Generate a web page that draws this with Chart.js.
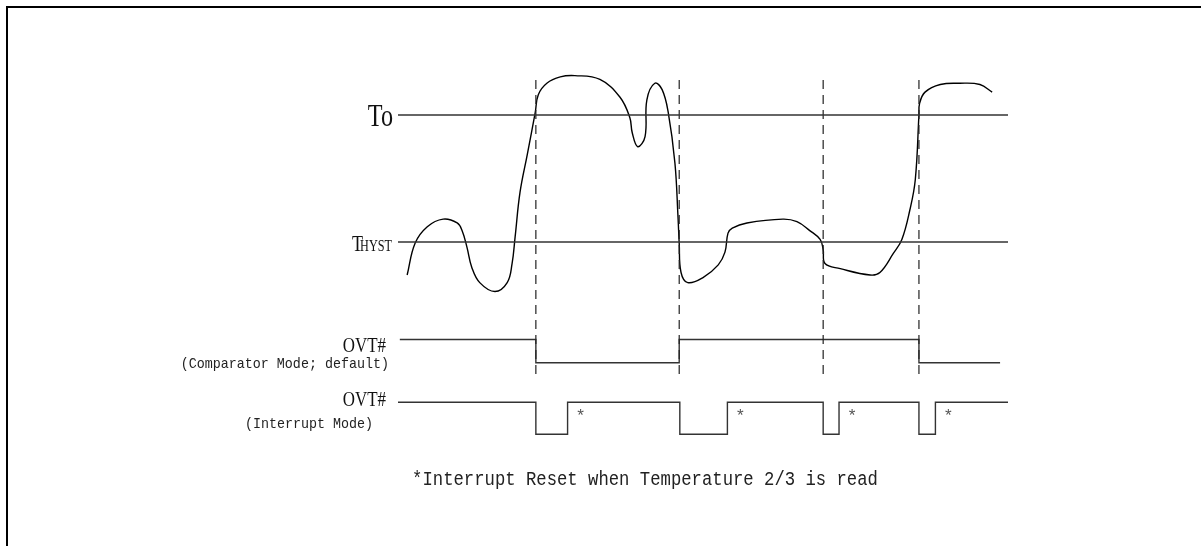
<!DOCTYPE html>
<html lang="en">
<head>
<meta charset="UTF-8">
<title>OVT# timing</title>
<script src="https://cdn.jsdelivr.net/npm/chart.js@4/dist/chart.umd.min.js"></script>
<style>
    body { margin: 0; background: #fff; overflow: hidden; }
    #frame {
        position: absolute; left: 6px; top: 6px; width: 1195px; height: 540px;
        border-top: 2px solid #000; border-left: 2px solid #000;
    }
    #chartBox { position: absolute; left: 0; top: 0; width: 1201px; height: 546px; }
</style>
</head>
<body>
<div id="frame"></div>
<div id="chartBox"><canvas id="timing" width="1201" height="546"></canvas></div>

<script>
    // temperature trace (time in arbitrary units, temperature normalised: THYST = 0, To = 1)
    const tempTime = [1.5, 2.8, 4.8, 7.4, 9.7, 10.5, 11.3, 12.1, 13.4, 15.9, 17.9, 18.7, 19.2, 20.0, 21.2,
        22.5, 23.0, 24.4, 26.6, 29.0, 33.1, 36.4, 38.0, 38.4, 39.3, 40.5, 40.8, 42.1, 43.3, 44.3, 45.4,
        45.9, 46.1, 46.4, 47.5, 50.0, 52.5, 53.6, 54.1, 54.8, 57.2, 63.1, 65.4, 67.5, 69.2, 69.7, 70.0,
        72.5, 77.4, 79.0, 81.2, 82.6, 83.9, 84.8, 85.4, 85.5, 86.4, 88.9, 92.1, 95.4, 97.4];
    const tempValue = [-0.26, -0.01, 0.12, 0.18, 0.15, 0.09, -0.04, -0.20, -0.32, -0.39, -0.32, -0.17, 0.04, 0.39, 0.69,
        1.02, 1.16, 1.25, 1.30, 1.31, 1.28, 1.14, 0.98, 0.86, 0.75, 0.83, 1.12, 1.25, 1.20, 1.02, 0.62,
        0.20, -0.01, -0.24, -0.32, -0.28, -0.18, -0.08, 0.07, 0.11, 0.15, 0.18, 0.16, 0.09, 0.02, -0.06, -0.17,
        -0.21, -0.26, -0.24, -0.09, 0.02, 0.25, 0.49, 1.00, 1.09, 1.18, 1.24, 1.25, 1.24, 1.18];

    const thresholdValues = [1, 0];          // To, THYST
    const thresholdSpan = [0, 100];
    const eventTimes = [22.6, 46.1, 69.7, 85.4];
    const eventRange = [-1.04, 1.315];       // dashed marker extent on the temperature axis

    // OVT# comparator mode
    const compTime = [0.3, 22.6, 46.1, 85.4, 98.7];
    const compLevel = [1, 0, 1, 0, 0];

    // OVT# interrupt mode
    const intTime = [0, 22.6, 27.8, 46.2, 54.0, 69.7, 72.3, 85.4, 88.1, 100];
    const intLevel = [1, 0, 1, 0, 1, 0, 1, 0, 1, 1];
    const readTimes = [27.8, 54.0, 72.3, 88.1];

    const noteText = '*Interrupt Reset when Temperature 2/3 is read';

    // layout
    const W = 1201, H = 546;
    const ORIGIN_PX = 398, PX_PER_UNIT = 6.1;

    function fitAxis(v1, p1, v0, p0) {
        let unit = (p0 - p1) / (v1 - v0);
        let max = v1 + p1 / unit;
        return { min: max - H / unit, max: max };
    }

    function pairs(xs, ys) {
        return xs.map((x, i) => ({ x: x, y: ys[i] }));
    }

    let datasets = [];

    thresholdValues.forEach((v) => {
        datasets.push({
            data: thresholdSpan.map((t) => ({ x: t, y: v })),
            yAxisID: 'yTemp', borderColor: '#333', borderWidth: 1.3
        });
    });

    eventTimes.forEach((t) => {
        datasets.push({
            data: eventRange.map((v) => ({ x: t, y: v })),
            yAxisID: 'yTemp', borderColor: '#222', borderWidth: 1.2, borderDash: [9, 6]
        });
    });

    datasets.push({
        data: pairs(tempTime, tempValue),
        yAxisID: 'yTemp', borderColor: '#000', borderWidth: 1.4,
        tension: 0.4
    });

    datasets.push({
        data: pairs(compTime, compLevel),
        yAxisID: 'yComp', borderColor: '#333', borderWidth: 1.4, stepped: 'before'
    });

    datasets.push({
        data: pairs(intTime, intLevel),
        yAxisID: 'yInt', borderColor: '#333', borderWidth: 1.4, stepped: 'before'
    });

    function drawText(ctx, text, px, py, font, align, sx) {
        ctx.save();
        ctx.translate(px, py);
        ctx.scale(sx, 1);
        ctx.font = font;
        ctx.textAlign = align;
        ctx.textBaseline = 'alphabetic';
        ctx.fillText(text, 0, 0);
        ctx.restore();
    }

    const labelPlugin = {
        id: 'labels',
        afterDatasetsDraw(chart) {
            let ctx = chart.ctx;
            let x = chart.scales.x, yTemp = chart.scales.yTemp, yComp = chart.scales.yComp, yInt = chart.scales.yInt;
            let left = x.getPixelForValue(0);
            let serif = '"Liberation Serif", serif';
            let mono = '"Liberation Mono", monospace';

            ctx.fillStyle = '#111';
            drawText(ctx, 'To', left - 5, yTemp.getPixelForValue(thresholdValues[0]) + 11, '31px ' + serif, 'right', 0.78);

            // T with small-caps HYST
            ctx.save();
            ctx.font = '17px ' + serif;
            let hystW = ctx.measureText('HYST').width * 0.72;
            ctx.restore();
            let yh = yTemp.getPixelForValue(thresholdValues[1]) + 9;
            drawText(ctx, 'HYST', left - 6, yh, '17px ' + serif, 'right', 0.72);
            drawText(ctx, 'T', left - 6 - hystW + 3, yh, '24px ' + serif, 'right', 0.75);

            drawText(ctx, 'OVT#', left - 12, yComp.getPixelForValue(1) + 12, '22px ' + serif, 'right', 0.77);
            drawText(ctx, 'OVT#', left - 12, yInt.getPixelForValue(1) + 4, '22px ' + serif, 'right', 0.77);

            ctx.fillStyle = '#222';
            drawText(ctx, '(Comparator Mode; default)', left - 9, yComp.getPixelForValue(1) + 28, '15px ' + mono, 'right', 0.89);
            drawText(ctx, '(Interrupt Mode)', left - 89, yInt.getPixelForValue(1) + 26, '15px ' + mono, 'center', 0.89);

            ctx.fillStyle = '#555';
            readTimes.forEach((t) => {
                drawText(ctx, '*', x.getPixelForValue(t) + 13, yInt.getPixelForValue(1) + 19, '17px ' + mono, 'center', 1);
            });

            ctx.fillStyle = '#222';
            drawText(ctx, noteText, left + 247, yInt.getPixelForValue(0) + 51, '20px ' + mono, 'center', 0.8625);
        }
    };

    let ctx = document.getElementById('timing').getContext('2d');
    new Chart(ctx, {
        type: 'scatter',
        data: { datasets: datasets },
        options: {
            responsive: false,
            animation: false,
            showLine: true,
            layout: { padding: 0 },
            elements: { point: { radius: 0, hoverRadius: 0 }, line: { fill: false } },
            plugins: { legend: { display: false }, tooltip: { enabled: false } },
            scales: {
                x: { type: 'linear', display: false, min: -ORIGIN_PX / PX_PER_UNIT, max: (W - ORIGIN_PX) / PX_PER_UNIT },
                yTemp: Object.assign({ type: 'linear', display: false }, fitAxis(1, 115, 0, 242)),
                yComp: Object.assign({ type: 'linear', display: false }, fitAxis(1, 339.5, 0, 362.7)),
                yInt: Object.assign({ type: 'linear', display: false }, fitAxis(1, 402.3, 0, 434.3))
            }
        },
        plugins: [labelPlugin]
    });
</script>
</body>
</html>
